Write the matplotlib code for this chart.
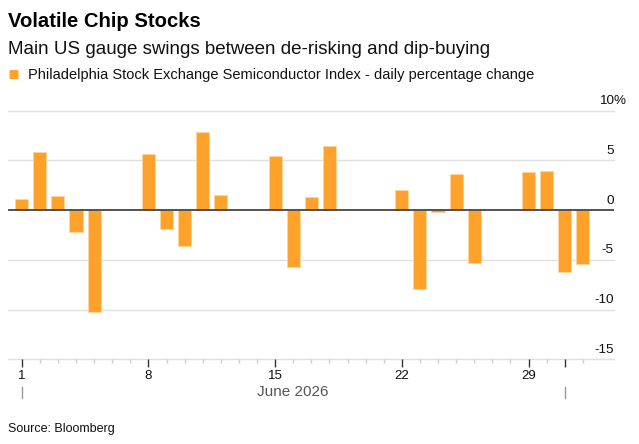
import matplotlib
matplotlib.use("Agg")
import matplotlib.pyplot as plt
import matplotlib.dates as mdates
import matplotlib.transforms as mtrans
from matplotlib.patches import FancyBboxPatch
import datetime as dt

plt.rcParams['font.family'] = ['Liberation Sans', 'DejaVu Sans']

# ---- data ----
dates = ['2026-06-01', '2026-06-02', '2026-06-03', '2026-06-04', '2026-06-05',
         '2026-06-08', '2026-06-09', '2026-06-10', '2026-06-11', '2026-06-12',
         '2026-06-15', '2026-06-16', '2026-06-17', '2026-06-18',
         '2026-06-22', '2026-06-23', '2026-06-24', '2026-06-25', '2026-06-26',
         '2026-06-29', '2026-06-30', '2026-07-01', '2026-07-02']
changes = [1.1, 5.8, 1.4, -2.2, -10.2,
           5.6, -1.9, -3.6, 7.9, 1.5,
           5.4, -5.7, 1.3, 6.4,
           2.0, -7.9, -0.2, 3.6, -5.3,
           3.8, 3.9, -6.2, -5.4]
y_ticks = [10, 5, 0, -5, -10, -15]
x_tick_days = [1, 8, 15, 22, 29]
title = "Volatile Chip Stocks"
subtitle = "Main US gauge swings between de-risking and dip-buying"
legend_label = "Philadelphia Stock Exchange Semiconductor Index - daily percentage change"
month_label = "June 2026"
source = "Source: Bloomberg"

W, H = 639, 444
fig = plt.figure(figsize=(W / 100, H / 100), dpi=100)

def fx(x):
    return x / W

def fy(y):
    return 1 - y / H

ax_left, ax_right, ax_top, ax_bot = 8, 614, 110.7, 359.3
ax = fig.add_axes([fx(ax_left), fy(ax_bot), (ax_right - ax_left) / W, (ax_bot - ax_top) / H])

xnum = [mdates.date2num(dt.datetime.strptime(d, '%Y-%m-%d')) for d in dates]
d1 = mdates.date2num(dt.datetime(2026, 6, 1))
jul1 = mdates.date2num(dt.datetime(2026, 7, 1))
px_per_day = 18.1
x0_px = 21.7
ax.set_xlim(d1 - (x0_px - ax_left) / px_per_day, d1 + (ax_right - x0_px) / px_per_day)
ax.set_ylim(-15, 10)

bar_color = '#ffa22b'
ax.bar(xnum, changes, width=0.72, color=bar_color, edgecolor='#ffd79a',
       linewidth=0.5, zorder=3)

# gridlines
for v in y_ticks:
    if v == 0:
        continue
    ax.axhline(v, color='#e0e0e0', linewidth=1.0, zorder=1, clip_on=False)
ax.axhline(0, color='#444444', linewidth=1.3, zorder=4)

for s in ax.spines.values():
    s.set_visible(False)
ax.set_yticks([])

# x ticks
major = [d1 + (d - 1) for d in x_tick_days] + [jul1]
ax.set_xticks(major)
ax.set_xticklabels([str(d) for d in x_tick_days] + [''])
minor = [d1 + i for i in range(32)]
ax.set_xticks(minor, minor=True)
ax.tick_params(axis='x', which='major', length=6, width=1, color='#333333',
               labelsize=9.5, pad=2, labelcolor='#111111')
ax.tick_params(axis='x', which='minor', length=3, width=1, color='#cccccc')

# y labels
trans = mtrans.offset_copy(ax.get_yaxis_transform(), fig=fig, x=0, y=6.5, units='dots')
for v in y_ticks:
    ax.text(1.0, v, str(v), transform=trans, ha='right', va='baseline',
            fontsize=9.7, color='#111111', clip_on=False)
trans_pct = mtrans.offset_copy(ax.get_yaxis_transform(), fig=fig, x=-1.0, y=6.5, units='dots')
ax.text(1.0, 10, '%', transform=trans_pct, ha='left', va='baseline',
        fontsize=9.7, color='#111111', clip_on=False)

# month separators and label
for xp in [x0_px, x0_px + 30 * px_per_day]:
    fig.add_artist(plt.Line2D([fx(xp), fx(xp)], [fy(387), fy(398)],
                              color='#999999', linewidth=1))
fig.text(fx((x0_px + x0_px + 30 * px_per_day) / 2), fy(396), month_label,
         ha='center', va='baseline', fontsize=11, color='#555555')

# titles
fig.text(fx(8), fy(26.7), title, ha='left', va='baseline', fontsize=14.6,
         fontweight='bold', color='#000000')
fig.text(fx(8), fy(54), subtitle, ha='left', va='baseline', fontsize=13.5,
         color='#111111')
fig.add_artist(FancyBboxPatch((fx(9.5), fy(79)), fx(9), (9 / H),
                              boxstyle='round,pad=0,rounding_size=0.002',
                              facecolor=bar_color, edgecolor='none',
                              transform=fig.transFigure))
fig.text(fx(28), fy(79), legend_label, ha='left', va='baseline', fontsize=10.5,
         color='#111111')
fig.text(fx(8), fy(432), source, ha='left', va='baseline', fontsize=9,
         color='#111111')

fig.savefig('out.png', dpi=100)
